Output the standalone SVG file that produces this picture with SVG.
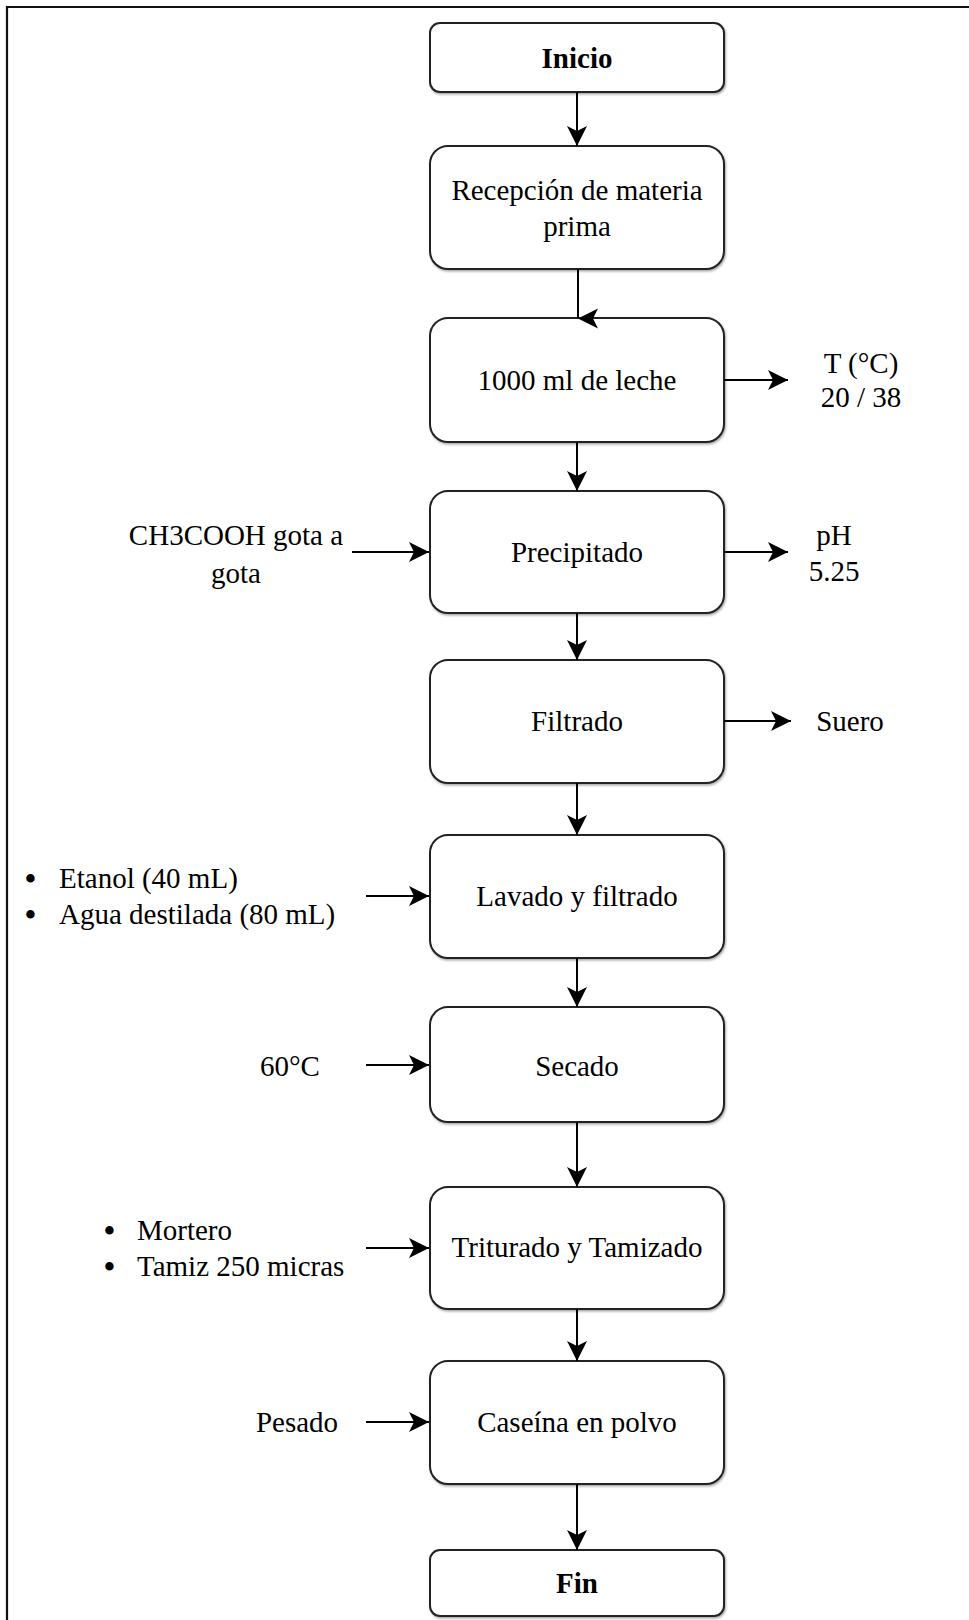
<svg xmlns="http://www.w3.org/2000/svg" width="969" height="1620" viewBox="0 0 969 1620">
<style>
.box{fill:#fff;stroke:#222;stroke-width:2;filter:url(#sh)}
.t{font-family:"Liberation Serif","Times New Roman",serif;font-size:29px;fill:#000;dominant-baseline:central}
.c{text-anchor:middle}
.b{font-weight:bold}
.bu{font-size:31px;font-weight:bold}
.ln{fill:none;stroke:#000;stroke-width:2}
</style>
<defs>
<filter id="sh" x="-10%" y="-10%" width="120%" height="130%">
<feDropShadow dx="1" dy="1.5" stdDeviation="1" flood-color="#000" flood-opacity="0.35"/>
</filter>
<marker id="ah" viewBox="0 0 20 20" refX="20" refY="10" markerWidth="20" markerHeight="20" markerUnits="userSpaceOnUse" orient="auto">
<path d="M0,0 L20,10 L0,20 L5,10 Z" fill="#000"/>
</marker>
</defs>
<rect width="969" height="1620" fill="#fff"/>
<path d="M7,1620 V7 H969" fill="none" stroke="#111" stroke-width="2.2"/>

<g id="inicio"><rect class="box" x="430" y="23" width="294" height="69" rx="10"/><text class="t c b" x="577" y="57.5">Inicio</text></g>
<g id="recepcion"><rect class="box" x="430" y="146" width="294" height="123" rx="18"/><text class="t c" x="577" y="190">Recepción de materia</text><text class="t c" x="577" y="226">prima</text></g>
<g id="leche"><rect class="box" x="430" y="318" width="294" height="124" rx="18"/><text class="t c" x="577" y="380">1000 ml de leche</text></g>
<g id="precipitado"><rect class="box" x="430" y="491" width="294" height="122" rx="18"/><text class="t c" x="577" y="552">Precipitado</text></g>
<g id="filtrado"><rect class="box" x="430" y="660" width="294" height="123" rx="18"/><text class="t c" x="577" y="721">Filtrado</text></g>
<g id="lavado"><rect class="box" x="430" y="835" width="294" height="123" rx="18"/><text class="t c" x="577" y="896">Lavado y filtrado</text></g>
<g id="secado"><rect class="box" x="430" y="1007" width="294" height="115" rx="18"/><text class="t c" x="577" y="1066">Secado</text></g>
<g id="triturado"><rect class="box" x="430" y="1187" width="294" height="122" rx="18"/><text class="t c" x="577" y="1247">Triturado y Tamizado</text></g>
<g id="caseina"><rect class="box" x="430" y="1361" width="294" height="123" rx="18"/><text class="t c" x="577" y="1422">Caseína en polvo</text></g>
<g id="fin"><rect class="box" x="430" y="1550" width="294" height="66" rx="10"/><text class="t c b" x="577" y="1583">Fin</text></g>

<g id="temp"><text class="t c" x="861" y="363">T (°C)</text><text class="t c" x="861" y="397">20 / 38</text></g>
<g id="ph"><text class="t c" x="834" y="535">pH</text><text class="t c" x="834" y="571">5.25</text></g>
<g id="suero"><text class="t c" x="850" y="721">Suero</text></g>
<g id="acido"><text class="t c" x="236" y="535">CH3COOH gota a</text><text class="t c" x="236" y="573">gota</text></g>
<g id="lavado-in"><text class="t bu" x="25" y="878">•</text><text class="t" x="59" y="878">Etanol (40 mL)</text><text class="t bu" x="25" y="914">•</text><text class="t" x="59" y="914">Agua destilada (80 mL)</text></g>
<g id="temp60"><text class="t c" x="290" y="1066">60°C</text></g>
<g id="triturado-in"><text class="t bu" x="104" y="1230">•</text><text class="t" x="137" y="1230">Mortero</text><text class="t bu" x="104" y="1266">•</text><text class="t" x="137" y="1266">Tamiz 250 micras</text></g>
<g id="pesado"><text class="t c" x="297" y="1422">Pesado</text></g>

<g id="connectors">
<path class="ln" d="M577,92 V146" marker-end="url(#ah)"/>
<path class="ln" d="M578,269 V318"/>
<path d="M578,318.5 L598,308.5 L593,318.5 L598,328.5 Z" fill="#000"/>
<path class="ln" d="M577,442 V491" marker-end="url(#ah)"/>
<path class="ln" d="M577,613 V660" marker-end="url(#ah)"/>
<path class="ln" d="M577,783 V835" marker-end="url(#ah)"/>
<path class="ln" d="M577,958 V1007" marker-end="url(#ah)"/>
<path class="ln" d="M577,1122 V1187" marker-end="url(#ah)"/>
<path class="ln" d="M577,1309 V1361" marker-end="url(#ah)"/>
<path class="ln" d="M577,1484 V1550" marker-end="url(#ah)"/>
<path class="ln" d="M724,380 H788" marker-end="url(#ah)"/>
<path class="ln" d="M724,552 H788" marker-end="url(#ah)"/>
<path class="ln" d="M724,721 H791" marker-end="url(#ah)"/>
<path class="ln" d="M352,552 H429" marker-end="url(#ah)"/>
<path class="ln" d="M366,896 H429" marker-end="url(#ah)"/>
<path class="ln" d="M366,1065 H429" marker-end="url(#ah)"/>
<path class="ln" d="M366,1248 H429" marker-end="url(#ah)"/>
<path class="ln" d="M366,1422 H429" marker-end="url(#ah)"/>
</g>
</svg>
